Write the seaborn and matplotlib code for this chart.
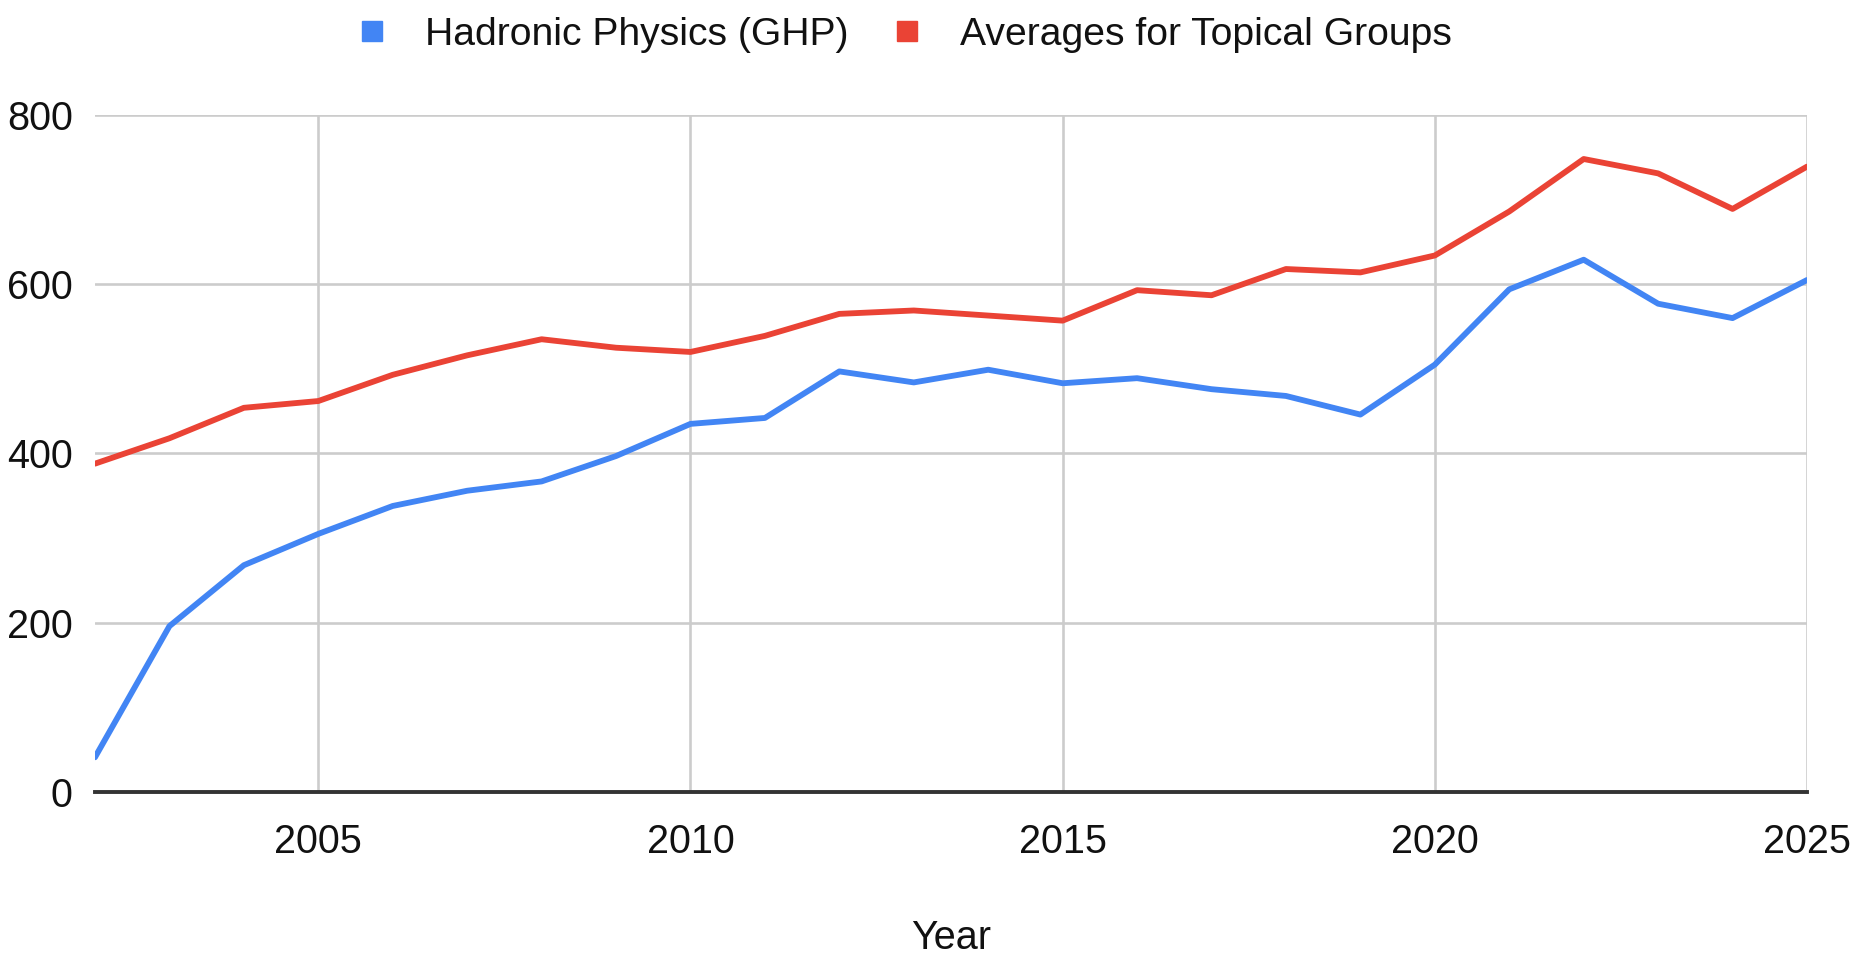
import pandas as pd
import seaborn as sns
import matplotlib.pyplot as plt
from matplotlib.lines import Line2D

years = list(range(2002, 2026))
ghp = [41, 196, 268, 305, 338, 356, 367, 397, 435, 442, 497, 484,
       499, 483, 489, 476, 468, 446, 505, 594, 629, 577, 560, 605]
avg_topical = [388, 418, 454, 462, 493, 516, 535, 525, 520, 539, 565, 569,
               563, 557, 593, 587, 618, 614, 634, 686, 748, 731, 689, 739]
series_names = ["Hadronic Physics (GHP)", "Averages for Topical Groups"]
colors = ["#4285F4", "#EA4335"]

data = pd.concat([
    pd.DataFrame({"Year": years, "value": ghp, "series": series_names[0]}),
    pd.DataFrame({"Year": years, "value": avg_topical, "series": series_names[1]}),
])

sns.set_style("white")
plt.rcParams["font.family"] = ["Liberation Sans", "DejaVu Sans"]

fig = plt.figure(figsize=(18.59, 9.63), dpi=100)
ax = fig.add_axes([95 / 1859, 1 - 792 / 963, (1807 - 95) / 1859, (792 - 115) / 963])

sns.lineplot(data=data, x="Year", y="value", hue="series", palette=colors,
             linewidth=4.2, legend=False, ax=ax, zorder=3)

ax.set_xlim(2002, 2025)
ax.set_ylim(0, 800)
ax.set_xticks([2005, 2010, 2015, 2020, 2025])
ax.set_yticks([0, 200, 400, 600, 800])
ax.grid(True, color="#cccccc", linewidth=1.9)
ax.set_axisbelow(True)
for s in ["top", "right", "left"]:
    ax.spines[s].set_visible(False)
ax.spines["bottom"].set_color("#333333")
ax.spines["bottom"].set_linewidth(2.8)
ax.spines["bottom"].set_zorder(4)
ax.tick_params(axis="both", length=0, labelsize=28.5, labelcolor="#111111")
ax.tick_params(axis="x", pad=22)
ax.tick_params(axis="y", pad=16)
ax.set_ylabel("")
ax.set_xlabel("Year", fontsize=28.5, color="#111111", labelpad=42)

handles = [Line2D([], [], marker="s", linestyle="none", markersize=15,
                  markerfacecolor=c, markeredgecolor=c) for c in colors]
fig.legend(handles, series_names, loc="center", bbox_to_anchor=(904 / 1859, 1 - 35 / 963),
           ncol=2, frameon=False, fontsize=28.2, handletextpad=0.95, columnspacing=1.1,
           handlelength=0.8, labelcolor="#111111")

fig.savefig("out.png", dpi=100)
